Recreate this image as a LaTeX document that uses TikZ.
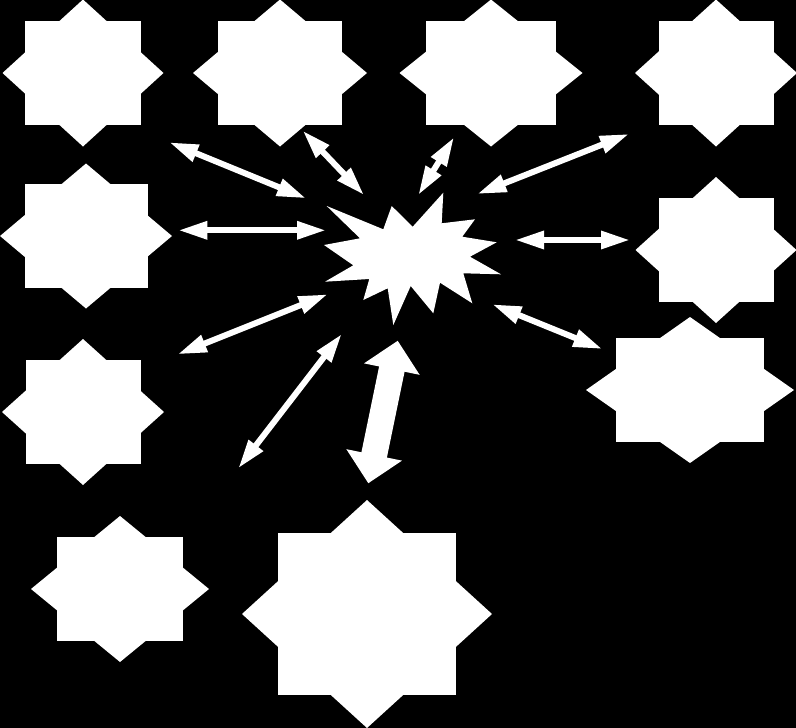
\documentclass[tikz,border=0pt]{standalone}
\usetikzlibrary{arrows.meta}
\tikzset{
  starfill/.style={fill=white},
  thinarrow/.style={draw=white, line width=6pt, {Triangle[length=29pt,width=17pt]}-{Triangle[length=29pt,width=17pt]}},
  bigarrow/.style={draw=white, line width=26pt, {Triangle[length=29pt,width=55pt]}-{Triangle[length=29pt,width=55pt]}}
}
\newcommand{\octostar}[7]{%
  \coordinate (#1) at (#2,#3);
  \fill[starfill] (#2-#4,#3-#5) rectangle (#2+#4,#3+#5);
  \fill[starfill] (#2-#6,#3) -- (#2,#3-#7) -- (#2+#6,#3) -- (#2,#3+#7) -- cycle;
}
\begin{document}
\begin{tikzpicture}[x=1pt,y=-1pt]
\useasboundingbox (0,0) rectangle (796,728);
\fill[black] (0,0) rectangle (796,728);
% stars
\octostar{s1}{83}{73}{58}{52}{80.5}{73.5}
\octostar{s2}{280}{73}{62}{52}{87}{73.5}
\octostar{s3}{491}{73}{65}{52}{91.5}{73.5}
\octostar{s4}{716}{73}{57.5}{52}{81}{73.5}
\octostar{s5}{86}{236}{61.5}{52}{86}{72.5}
\octostar{s6}{83}{412}{57.5}{52}{81}{73}
\octostar{s7}{716}{250}{57.5}{52}{80.5}{73}
\octostar{s8}{690}{390}{74}{52}{104}{73}
\octostar{s9}{120}{589}{63}{52}{89}{73}
\octostar{s10}{367}{614}{89}{81}{125}{114}
% central explosion
\coordinate (c) at (412,260);
\fill[white] (443.3,192.7) -- (441.7,223.3) -- (475,219.3) -- (462.3,236.7)
  -- (496.7,242.3) -- (470,256.7) -- (501,274.3) -- (463.3,273.3)
  -- (472.3,303.3) -- (440,282.7) -- (433.3,313.3) -- (410.7,286)
  -- (393.3,325) -- (387.7,288.3) -- (363.3,300) -- (369.3,279)
  -- (325,281.7) -- (353.3,265.3) -- (324,245) -- (360,238.3)
  -- (326.7,206) -- (383.3,229.3) -- (391.7,206) -- (412.7,226.7) -- cycle;
% arrow end points
\coordinate (a1s) at (169.3,142.3); \coordinate (a1e) at (306,198.3);
\coordinate (a2s) at (302.7,130.7); \coordinate (a2e) at (364,195);
\coordinate (a3s) at (454,137.3);   \coordinate (a3e) at (418.3,195);
\coordinate (a4s) at (629,134);     \coordinate (a4e) at (477.3,194);
\coordinate (a5s) at (178.3,230.3); \coordinate (a5e) at (326,230.3);
\coordinate (a6s) at (515,240);     \coordinate (a6e) at (630,240);
\coordinate (a7s) at (177.7,354.3); \coordinate (a7e) at (327.7,294.3);
\coordinate (a8s) at (492.3,304.3); \coordinate (a8e) at (602.3,349);
\coordinate (a9s) at (341.7,334);   \coordinate (a9e) at (238.3,468.3);
\coordinate (a10s) at (397.7,340.7); \coordinate (a10e) at (368.3,483.3);
\foreach \i in {1,...,9} {\draw[thinarrow] (a\i s) -- (a\i e);}
\draw[bigarrow] (a10s) -- (a10e);
\end{tikzpicture}
\end{document}
